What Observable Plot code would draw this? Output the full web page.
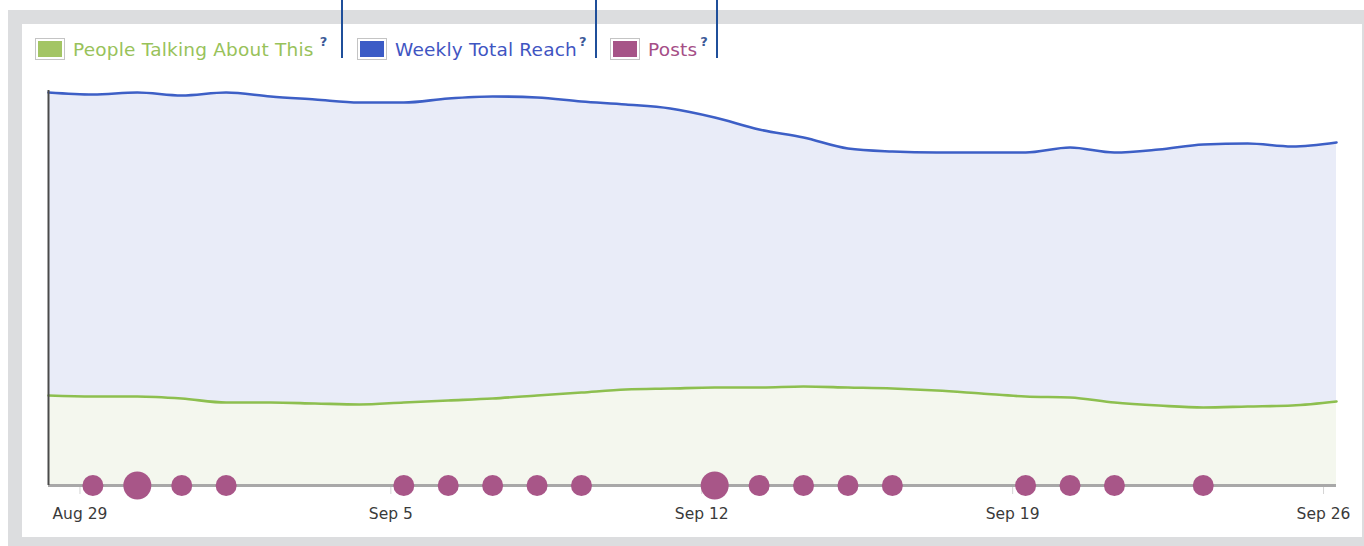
<!DOCTYPE html>
<html>
<head>
<meta charset="utf-8">
<script src="https://cdn.jsdelivr.net/npm/d3@7"></script>
<script src="https://cdn.jsdelivr.net/npm/@observablehq/plot@0.6"></script>
<style>
  html, body { margin: 0; padding: 0; background: #fff; width: 1364px; height: 546px; overflow: hidden; }
  #frame { position: absolute; left: 8px; top: 10px; width: 1356px; height: 536px; background: #dcdddf; }
  #panel { position: absolute; left: 22px; top: 24px; width: 1340px; height: 513px; background: #fff; }
  .item { position: absolute; top: 38px; height: 22px; display: flex; align-items: center; font-family: "DejaVu Sans", sans-serif; font-size: 18.5px; letter-spacing: 0.2px; white-space: nowrap; }
  .sw { width: 24px; height: 16px; border: 1px solid #c4c4c4; padding: 2px; background: #fff; margin-right: 8px; flex: none; }
  .sw div { width: 100%; height: 100%; }
  .q { font-size: 13px; font-weight: bold; color: #3b5998; position: relative; top: -8px; letter-spacing: 0; }
  .vl { position: absolute; top: 0; width: 2px; height: 58px; background: #1f4f9a; }
  #chart { position: absolute; left: 22px; top: 62px; }
</style>
</head>
<body>
<div id="frame"></div>
<div id="panel"></div>
<div id="chart"></div>
<script>
// ---- data ----
const days = ["2011-08-28","2011-08-29","2011-08-30","2011-08-31","2011-09-01","2011-09-02","2011-09-03","2011-09-04","2011-09-05","2011-09-06","2011-09-07","2011-09-08","2011-09-09","2011-09-10","2011-09-11","2011-09-12","2011-09-13","2011-09-14","2011-09-15","2011-09-16","2011-09-17","2011-09-18","2011-09-19","2011-09-20","2011-09-21","2011-09-22","2011-09-23","2011-09-24","2011-09-25","2011-09-26"];
const weeklyReach = [393,391,393,390,393,389,386,383,383,387,389,388,384,381,377,368,356,348,337,334,333,333,333,338,333,336,341,342,339,343];
const talkingAbout = [90,89,89,87,83,83,82,81,83,85,87,90,93,96,97,98,98,99,98,97,95,92,89,88,83,80,78,79,80,84];
const postDays = ["2011-08-29","2011-08-30","2011-08-31","2011-09-01","2011-09-05","2011-09-06","2011-09-07","2011-09-08","2011-09-09","2011-09-12","2011-09-13","2011-09-14","2011-09-15","2011-09-16","2011-09-19","2011-09-20","2011-09-21","2011-09-23"];
const postCounts = [1,2,1,1,1,1,1,1,1,2,1,1,1,1,1,1,1,1];
const tickDays = ["2011-08-29","2011-09-05","2011-09-12","2011-09-19","2011-09-26"];
const seriesNames = ["People Talking About This", "Weekly Total Reach", "Posts"];
const seriesColors = ["#a3c564", "#3b5bc6", "#a65487"];
const textColors = ["#98c25a", "#3f55c2", "#a54e86"];

// ---- build ----
const t = d => new Date(d + "T07:00:00Z");
const series = days.map((d, i) => ({date: t(d), reach: weeklyReach[i], talk: talkingAbout[i]}));
const posts = postDays.map((d, i) => ({date: t(d), n: postCounts[i]}));
const ticks = tickDays.map(d => new Date(d + "T00:00:00Z"));

// legend
const legendLeft = [35, 357, 610];
const qGap = [6, 2, 3];
seriesNames.forEach((name, i) => {
  const it = document.createElement("div");
  it.className = "item";
  it.style.left = legendLeft[i] + "px";
  it.innerHTML = `<div class="sw"><div style="background:${seriesColors[i]}"></div></div><span style="color:${textColors[i]}">${name}</span><span class="q" style="margin-left:${qGap[i]}px">?</span>`;
  document.body.appendChild(it);
});
[342, 596, 717].forEach(x => {
  const v = document.createElement("div");
  v.className = "vl"; v.style.left = (x - 1) + "px";
  document.body.appendChild(v);
});

const chart = Plot.plot({
  width: 1340,
  height: 475,
  marginLeft: 26,
  marginRight: 26,
  marginTop: 23,
  marginBottom: 52,
  style: {fontFamily: "DejaVu Sans, sans-serif", fontSize: "15.5px", background: "transparent", overflow: "visible"},
  x: {type: "utc", domain: [series[0].date, series[series.length - 1].date], axis: null},
  y: {domain: [0, 400], axis: null},
  r: {type: "linear", domain: [1, 2], range: [10.5, 14]},
  marks: [
    Plot.areaY(series, {x: "date", y: "reach", fill: "#e9ecf8", curve: "monotone-x"}),
    Plot.areaY(series, {x: "date", y: "talk", fill: "#f4f7ee", curve: "monotone-x"}),
    Plot.lineY(series, {x: "date", y: "reach", stroke: "#3d5fc6", strokeWidth: 2.6, curve: "monotone-x"}),
    Plot.lineY(series, {x: "date", y: "talk", stroke: "#8dbf4f", strokeWidth: 2.6, curve: "monotone-x"}),
    Plot.axisX({ticks, tickFormat: d3.utcFormat("%b %-d"), tickSize: 9, tickPadding: 13, stroke: "#d4d4d4", fill: "#3a3a3a", fontSize: 15.5, label: null}),
    Plot.ruleY([0], {stroke: "#a8a8a8", strokeWidth: 3}),
    Plot.ruleX([series[0].date], {y1: 0, y2: d3.max(weeklyReach) + 2, stroke: "#4a4a4a", strokeWidth: 2}),
    Plot.dot(posts, {x: "date", y: 0, r: "n", fill: "#a85688", stroke: "none"})
  ]
});
document.getElementById("chart").appendChild(chart);
</script>
</body>
</html>
